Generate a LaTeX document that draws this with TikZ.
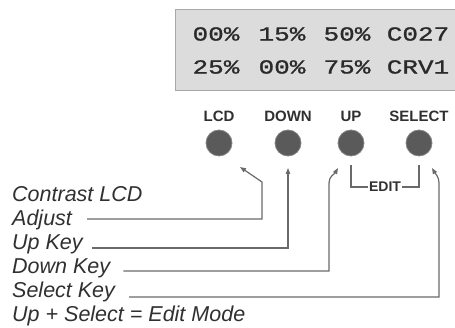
\documentclass[tikz,border=0pt]{standalone}
\usepackage{fontspec}
\setmainfont{Liberation Sans}
\newfontfamily\lcdfont[FakeBold=1]{Liberation Mono}
\usetikzlibrary{arrows.meta}
\definecolor{lcdbg}{HTML}{DCDCDC}
\definecolor{lcdrim}{HTML}{A8A8A8}
\definecolor{lcdink}{HTML}{2A2A2A}
\definecolor{keyc}{HTML}{5A5A5A}
\definecolor{wirec}{HTML}{6A6A6A}
\definecolor{inkc}{HTML}{303030}

\begin{document}
\begin{tikzpicture}[x=1pt,y=1pt,
  lcdtxt/.style={font=\lcdfont\fontsize{20}{20}\selectfont,text=lcdink,xscale=1.3,inner sep=0pt},
  keylbl/.style={font=\bfseries\fontsize{15}{15}\selectfont,text=inkc,inner sep=0pt,anchor=base},
  keybtn/.style={circle,fill=keyc,draw=keyc!75!white,line width=.8pt,minimum size=26pt,inner sep=0pt},
  lbl/.style={font=\itshape\fontsize{21.5}{21.5}\selectfont,text=inkc,inner sep=0pt,anchor=base west},
  wire/.style={draw=wirec,line width=1.2pt},
  pointer/.style={wire,-{Triangle[length=6pt,width=4.5pt]}}]
\useasboundingbox (0,0) rectangle (455,328);
\clip (0,0) rectangle (455,328);
\draw[fill=lcdbg,draw=lcdrim,line width=1pt] (175,237) rectangle (470,318);
\foreach \x/\a/\b [count=\i] in {216/00\%/25\%,282/15\%/00\%,347/50\%/75\%,418/C027/CRV1}{
  \node[lcdtxt] (top\i) at (\x,294) {\a};
  \node[lcdtxt] (bot\i) at (\x,261) {\b};}
\foreach \x/\n/\t in {219/lcd/LCD,288/down/DOWN,351/up/UP,419/sel/SELECT}{
  \node[keybtn] (\n) at (\x,185) {};
  \node[keylbl] (\n-lbl) at (\x,206) {\t};}
\node[lbl] (contrast) at (12,126) {Contrast LCD};
\node[lbl] (adj) at (12,102) {Adjust};
\node[lbl] (upk) at (12,78) {Up Key};
\node[lbl] (downk) at (12,54) {Down Key};
\node[lbl] (selk) at (12,30) {Select Key};
\node[lbl] (editm) at (12,6) {Up + Select = Edit Mode};
\coordinate (lcdtip) at ([shift={(21,-24)}]lcd.center);
\coordinate (downtip) at ([yshift=-25]down.center);
\coordinate (uptip) at ([shift={(-13,-25)}]up.center);
\coordinate (seltip) at ([shift={(13,-25)}]sel.center);
\draw[pointer] ([shift={(15,7)}]adj.base east) -| ([shift={(22,-15)}]lcdtip) -- (lcdtip);
\draw[pointer] ([shift={(9,2)}]upk.base east) -| (downtip);
\draw[pointer] ([shift={(13,3)}]downk.base east) -| ([shift={(-9,-15)}]uptip) to[out=90,in=-120] (uptip);
\draw[pointer] ([shift={(14,1)}]selk.base east) -| ([shift={(7,-15)}]seltip) to[out=90,in=-60] (seltip);
\node[font=\bfseries\fontsize{14}{14}\selectfont,text=inkc,inner sep=1pt] (edit) at (385,141) {EDIT};
\draw[wire] ([yshift=-9]up.south) |- (edit.west);
\draw[wire] (edit.east) -| ([yshift=-9]sel.south);
\end{tikzpicture}
\end{document}
